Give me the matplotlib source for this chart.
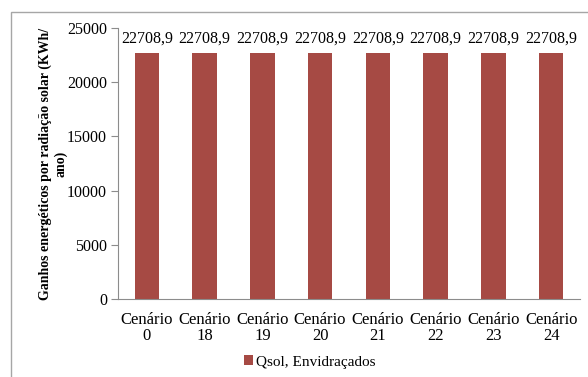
import matplotlib.pyplot as plt
from matplotlib.patches import Rectangle

# dados
cenarios = ["Cenário\n0", "Cenário\n18", "Cenário\n19", "Cenário\n20",
            "Cenário\n21", "Cenário\n22", "Cenário\n23", "Cenário\n24"]
qsol = [22708.9, 22708.9, 22708.9, 22708.9, 22708.9, 22708.9, 22708.9, 22708.9]
rotulos = ["22708,9"] * len(qsol)
yticks = [0, 5000, 10000, 15000, 20000, 25000]

plt.rcParams["font.family"] = ["Liberation Serif", "DejaVu Serif"]
cor = "#A64A44"

fig = plt.figure(figsize=(5.88, 3.77), dpi=100)
# moldura exterior (cortada à direita e em baixo como no original)
fig.patches.append(Rectangle((11 / 588, -0.05), 1.0, (377 - 12) / 377 + 0.05,
                             transform=fig.transFigure, fill=False,
                             edgecolor="#A6A6A6", linewidth=1.0))

ax = fig.add_axes([118 / 588, 78 / 377, 462 / 588, 271 / 377])
x = range(len(qsol))
ax.bar(x, qsol, width=0.42, color=cor, label="Qsol, Envidraçados")
for xi, v, txt in zip(x, qsol, rotulos):
    ax.text(xi, v + 600, txt, ha="center", va="bottom", fontsize=11.5)

ax.set_xlim(-0.5, len(qsol) - 0.5)
ax.set_ylim(0, 25000)
ax.set_yticks(yticks)
ax.set_yticklabels([str(t) for t in yticks], fontsize=11.5)
ax.set_xticks(list(x))
ax.set_xticklabels(cenarios, fontsize=12, linespacing=1.05)
ax.tick_params(axis="x", length=0, pad=9)
ax.tick_params(axis="y", length=5, width=0.8, color="#8C8C8C", pad=3)
for s in ("top", "right"):
    ax.spines[s].set_visible(False)
for s in ("left", "bottom"):
    ax.spines[s].set_color("#8C8C8C")
    ax.spines[s].set_linewidth(0.8)

ax.set_ylabel("Ganhos energéticos por radiação solar (KWh/\nano)",
              fontsize=10, fontweight="bold", linespacing=1.15)
ax.yaxis.set_label_coords(-0.11, 0.5)

ax.legend(loc="center", bbox_to_anchor=(310 / 588, 15 / 377),
          bbox_transform=fig.transFigure, frameon=False, fontsize=11,
          handlelength=0.6, handleheight=0.6, handletextpad=0.2)

fig.savefig("out.png", dpi=100)
